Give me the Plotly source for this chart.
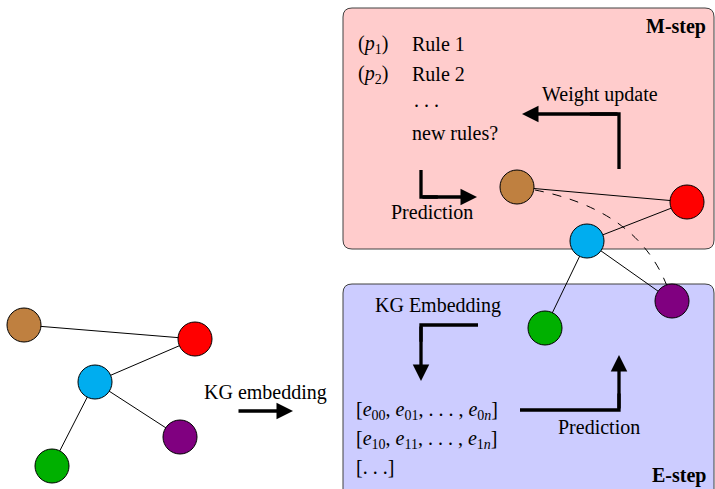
import plotly.graph_objects as go

# ---------------- data ----------------
node_names = ["brown", "red", "blue", "purple", "green"]
node_colors = ["#bf8040", "#ff0000", "#00adef", "#800080", "#00b000"]
left_x = [24, 195, 95, 180, 52]
left_y = [325, 339, 382, 437, 466]
right_x = [517, 687, 587, 672, 545]
right_y = [187, 202, 241, 301, 328]
edges = [(0, 1), (1, 2), (2, 4), (2, 3)]
dashed_edge = (0, 3)
dashed_ctrl = (645, 205)

m_box = (343, 8, 714, 249)
e_box = (343, 284, 714, 500)

texts = [
    # text, x, y, anchor
    ("<b>M-step</b>", 708, 26, "right"),
    ("(<i>p</i><sub>1</sub>)", 356, 44, "left"),
    ("Rule 1", 410, 44, "left"),
    ("(<i>p</i><sub>2</sub>)", 356, 74, "left"),
    ("Rule 2", 410, 74, "left"),
    (". . .", 412, 100, "left"),
    ("new rules?", 410, 133, "left"),
    ("Weight update", 600, 94, "center"),
    ("Prediction", 432, 212, "center"),
    ("KG Embedding", 438, 305, "center"),
    ("[<i>e</i><sub>00</sub>, <i>e</i><sub>01</sub>, . . . , <i>e</i><sub>0<i>n</i></sub>]", 354, 410, "left"),
    ("[<i>e</i><sub>10</sub>, <i>e</i><sub>11</sub>, . . . , <i>e</i><sub>1<i>n</i></sub>]", 354, 439, "left"),
    ("[. . .]", 354, 467, "left"),
    ("Prediction", 599, 427, "center"),
    ("<b>E-step</b>", 708, 475, "right"),
    ("KG embedding", 265, 392, "center"),
]

# polyline arrows: list of points, last point = arrow tip
arrows = [
    [(619, 169), (619, 114), (522, 114)],
    [(421, 170), (421, 197), (477, 197)],
    [(478, 325), (421, 325), (421, 381)],
    [(520, 410), (619, 410), (619, 355)],
    [(237, 411), (293, 411)],
]

# ---------------- figure ----------------
fig = go.Figure()


def rounded(x0, y0, x1, y1, r):
    return (f"M{x0+r},{y0} L{x1-r},{y0} Q{x1},{y0} {x1},{y0+r} "
            f"L{x1},{y1-r} Q{x1},{y1} {x1-r},{y1} L{x0+r},{y1} "
            f"Q{x0},{y1} {x0},{y1-r} L{x0},{y0+r} Q{x0},{y0} {x0+r},{y0} Z")


shapes = [
    dict(type="path", path=rounded(*m_box, 9), fillcolor="#ffcccc",
         line=dict(color="#404040", width=1), layer="below"),
    dict(type="path", path=rounded(*e_box, 9), fillcolor="#ccccff",
         line=dict(color="#404040", width=1), layer="below"),
]
a, b = dashed_edge
shapes.append(dict(
    type="path",
    path=f"M{right_x[a]},{right_y[a]} Q{dashed_ctrl[0]},{dashed_ctrl[1]} {right_x[b]},{right_y[b]}",
    line=dict(color="black", width=1, dash="dash"), layer="below"))

annotations = []
for pts in arrows:
    if len(pts) > 2:
        path = "M" + " L".join(f"{x},{y}" for x, y in pts[:-1])
        (cx, cy), (tx, ty) = pts[-2], pts[-1]
        mx = cx + (tx - cx) * 0.3
        my = cy + (ty - cy) * 0.3
        path += f" L{mx},{my}"
        shapes.append(dict(type="path", path=path,
                           line=dict(color="black", width=3.3), layer="above"))
    (cx, cy), (tx, ty) = pts[-2], pts[-1]
    annotations.append(dict(x=tx, y=ty, ax=cx, ay=cy, xref="x", yref="y",
                            axref="x", ayref="y", text="", showarrow=True,
                            arrowhead=2, arrowsize=1.0, arrowwidth=3.3,
                            arrowcolor="black", standoff=0, startstandoff=0))

for t, x, y, anc in texts:
    annotations.append(dict(x=x, y=y, xref="x", yref="y", text=t,
                            showarrow=False, xanchor=anc, yanchor="middle",
                            font=dict(family="Liberation Serif", size=20, color="black")))

# edges
for xs, ys in [(left_x, left_y), (right_x, right_y)]:
    ex, ey = [], []
    for i, j in edges:
        ex += [xs[i], xs[j], None]
        ey += [ys[i], ys[j], None]
    fig.add_trace(go.Scatter(x=ex, y=ey, mode="lines",
                             line=dict(color="black", width=1),
                             hoverinfo="skip", showlegend=False))

# nodes
for xs, ys in [(left_x, left_y), (right_x, right_y)]:
    fig.add_trace(go.Scatter(x=xs, y=ys, mode="markers", text=node_names,
                             marker=dict(size=34, color=node_colors,
                                         line=dict(color="black", width=1)),
                             hoverinfo="text", showlegend=False))

fig.update_layout(
    width=715, height=489,
    margin=dict(l=0, r=0, t=0, b=0),
    paper_bgcolor="white", plot_bgcolor="white",
    xaxis=dict(range=[0, 715], visible=False, fixedrange=True),
    yaxis=dict(range=[489, 0], visible=False, fixedrange=True),
    shapes=shapes, annotations=annotations,
)

fig.write_html("out.html", config={"displayModeBar": False},
               post_script="document.body.style.margin='0';document.body.style.overflow='hidden';")
